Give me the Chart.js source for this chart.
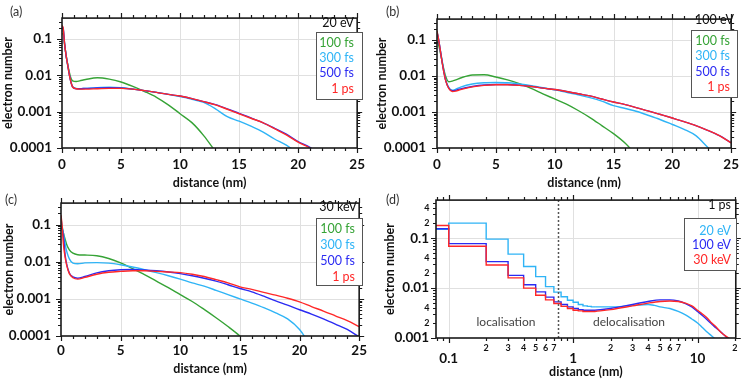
<!DOCTYPE html>
<html>
<head>
<meta charset="utf-8">
<script src="https://cdn.jsdelivr.net/npm/chart.js@4.4.1/dist/chart.umd.min.js"></script>
<style>
  html, body { margin: 0; padding: 0; background: #fff; }
  #fig { position: relative; width: 748px; height: 380px; overflow: hidden; }
  #fig canvas { position: absolute; }
</style>
</head>
<body>
<div id="fig">
  <canvas id="pa" width="374" height="190" style="left:0;top:0"></canvas>
  <canvas id="pb" width="374" height="190" style="left:374px;top:0"></canvas>
  <canvas id="pc" width="374" height="195" style="left:0;top:185px"></canvas>
  <canvas id="pd" width="374" height="195" style="left:374px;top:185px"></canvas>
</div>
<script>
// electron number vs distance, 4 panels

const timeNames = ['100 fs', '300 fs', '500 fs', '1 ps'];
const timeColors = ['#36a336', '#2fb4f6', '#2b2bf2', '#ff2828'];
const energyNames = ['20 eV', '100 eV', '30 keV'];
const energyColors = ['#2fb4f6', '#2b2bf2', '#ff2828'];

// tick labels
const distLabelAt = [0, 5, 10, 15, 20, 25];
const distLabels = ['0', '5', '10', '15', '20', '25'];
const numLabelAt = [0.0001, 0.001, 0.01, 0.1];
const numLabels = ['0.0001', '0.001', '0.01', '0.1'];
const logDistLabelAt = [0.1, 1, 10];
const logDistLabels = ['0.1', '1', '10'];
const logNumLabelAt = [0.001, 0.01, 0.1];
const logNumLabels = ['0.001', '0.01', '0.1'];
const dMinorXAt = [0.2, 0.3, 0.4, 0.5, 0.6, 0.7, 2, 3, 4, 5, 6, 7, 20];
const dMinorXText = ['2', '3', '4', '5', '6', '7', '2', '3', '4', '5', '6', '7', '2'];
const dMinorYAt = [0.002, 0.004, 0.02, 0.04, 0.2, 0.4];
const dMinorYText = ['2', '4', '2', '4', '2', '4'];

// (a) 20 eV
const distA = [0, 0.1, 0.22, 0.36, 0.5, 0.63, 0.77, 0.9, 1.2, 1.5, 2, 3, 4, 5, 6, 7, 8, 9, 10, 11, 12, 13, 14, 15, 16, 17, 18, 19, 20, 21, 22];
const a100fs = [0.14, 0.14, 0.07, 0.034, 0.019, 0.012, 0.0082, 0.0071, 0.0068, 0.0071, 0.0077, 0.0086, 0.0079, 0.0066, 0.005, 0.0036, 0.0025, 0.00155, 0.00088, 0.0005, 0.00022, 0.00008, null, null, null, null, null, null, null, null, null];
const a300fs = [0.2, 0.18, 0.074, 0.033, 0.018, 0.0102, 0.0064, 0.0049, 0.0044, 0.0043, 0.0044, 0.0046, 0.0047, 0.0046, 0.0042, 0.0038, 0.0034, 0.003, 0.0026, 0.0022, 0.0018, 0.0012, 0.00073, 0.00055, 0.0004, 0.00028, 0.000177, 0.00012, 0.00007, null, null];
const a500fs = [0.22, 0.2, 0.075, 0.033, 0.018, 0.01, 0.0063, 0.0048, 0.0043, 0.0043, 0.0044, 0.0045, 0.0046, 0.0045, 0.0042, 0.0038, 0.0034, 0.003, 0.0027, 0.0023, 0.0019, 0.00156, 0.0012, 0.0009, 0.00068, 0.0005, 0.00035, 0.00024, 0.00015, 0.000104, 0.00006];
const a1ps = [0.24, 0.2, 0.074, 0.033, 0.018, 0.01, 0.0063, 0.0048, 0.0043, 0.0042, 0.0042, 0.0043, 0.0044, 0.0044, 0.0042, 0.0038, 0.0034, 0.003, 0.0027, 0.0023, 0.0019, 0.00154, 0.00117, 0.00088, 0.00066, 0.0005, 0.00034, 0.00023, 0.000145, 0.0001, 0.00006];

// (b) 100 eV
const distB = [0, 0.1, 0.25, 0.5, 0.75, 1, 1.3, 1.6, 2, 3, 4, 5, 6, 7, 8, 9, 10, 11, 12, 13, 14, 15, 16, 17, 18, 19, 20, 21, 22, 23, 24, 25];
const b100fs = [0.09, 0.08, 0.05, 0.02, 0.0095, 0.0069, 0.0072, 0.0078, 0.0088, 0.0107, 0.0108, 0.0094, 0.0078, 0.0061, 0.0045, 0.0032, 0.0023, 0.00165, 0.0011, 0.0007, 0.00042, 0.00025, 0.000135, 0.00006, null, null, null, null, null, null, null, null];
const b300fs = [0.17, 0.12, 0.06, 0.02, 0.0075, 0.0048, 0.004, 0.0043, 0.0049, 0.006, 0.0065, 0.0066, 0.0065, 0.006, 0.0054, 0.0047, 0.0041, 0.0035, 0.003, 0.0025, 0.002, 0.0015, 0.00125, 0.00103, 0.0008, 0.00061, 0.00045, 0.00033, 0.00022, 0.000105, 0.00005, null];
const b500fs = [0.16, 0.12, 0.06, 0.018, 0.0073, 0.0046, 0.0039, 0.004, 0.0044, 0.0051, 0.0056, 0.0058, 0.0058, 0.0055, 0.0051, 0.0046, 0.0042, 0.0037, 0.0032, 0.0028, 0.0023, 0.0019, 0.0016, 0.0013, 0.00106, 0.00085, 0.00068, 0.00054, 0.00042, 0.00031, 0.00022, 0.00014];
const b1ps = [0.18, 0.12, 0.06, 0.018, 0.0072, 0.0045, 0.0037, 0.0038, 0.0042, 0.005, 0.0055, 0.0057, 0.0057, 0.0055, 0.0051, 0.0046, 0.0042, 0.0037, 0.0032, 0.0028, 0.0023, 0.0019, 0.0016, 0.0013, 0.00106, 0.00085, 0.00068, 0.00054, 0.00042, 0.00031, 0.00022, 0.000138];

// (c) 30 keV
const distC = [0, 0.1, 0.2, 0.35, 0.5, 0.7, 1, 1.4, 2, 3, 4, 5, 6, 7, 8, 9, 10, 11, 12, 13, 14, 15, 16, 17, 18, 19, 20, 21, 22, 23, 24, 25];
const c100fs = [0.1, 0.08, 0.06, 0.04, 0.028, 0.021, 0.017, 0.0155, 0.0152, 0.0145, 0.0122, 0.0093, 0.0065, 0.0045, 0.003, 0.002, 0.0013, 0.00085, 0.00052, 0.00031, 0.00018, 0.0001, 0.00005, null, null, null, null, null, null, null, null, null];
const c300fs = [0.15, 0.09, 0.06, 0.03, 0.018, 0.012, 0.0092, 0.0088, 0.0093, 0.0095, 0.0092, 0.0083, 0.0072, 0.0061, 0.0051, 0.0042, 0.0034, 0.0027, 0.0022, 0.0017, 0.0013, 0.001, 0.00077, 0.00058, 0.00042, 0.00029, 0.00015, 0.00005, null, null, null, null];
const c500fs = [0.08, 0.075, 0.05, 0.015, 0.008, 0.005, 0.0039, 0.0036, 0.004, 0.005, 0.0057, 0.0061, 0.0062, 0.006, 0.0057, 0.0053, 0.0048, 0.0042, 0.0036, 0.003, 0.0024, 0.0019, 0.00155, 0.00118, 0.00088, 0.00068, 0.00051, 0.00039, 0.00029, 0.00021, 0.00015, 0.000095];
const c1ps = [0.18, 0.09, 0.03, 0.013, 0.0075, 0.0048, 0.0037, 0.0034, 0.0038, 0.0046, 0.0052, 0.0055, 0.0057, 0.0057, 0.0055, 0.0053, 0.0051, 0.0046, 0.004, 0.0033, 0.0027, 0.0021, 0.0018, 0.0015, 0.00126, 0.00104, 0.00083, 0.00062, 0.00047, 0.00035, 0.00026, 0.00018];

// (d) 1 ps, histogram bins up to 1.5 nm then the smooth tail
const binEdges = [0.05, 0.1, 0.2, 0.3, 0.4, 0.5, 0.6, 0.7, 0.8, 0.9, 1.0, 1.1, 1.2, 1.3, 1.4, 1.5];
const d20eVBins = [0.15, 0.2, 0.096, 0.048, 0.027, 0.017, 0.0107, 0.0083, 0.0067, 0.0057, 0.0052, 0.0047, 0.0044, 0.0043, 0.0042];
const d100eVBins = [0.155, 0.078, 0.034, 0.018, 0.0117, 0.0084, 0.0066, 0.0053, 0.0047, 0.0042, 0.0039, 0.0037, 0.0036, 0.0036, 0.0036];
const d30keVBins = [0.18, 0.069, 0.029, 0.016, 0.01, 0.0072, 0.0058, 0.0049, 0.0043, 0.0039, 0.0036, 0.0035, 0.0034, 0.0034, 0.0034];
const tailDist20eV = [1.5, 2, 2.5, 3, 3.5, 4, 4.5, 5, 6, 7, 8, 9, 10, 11, 12, 13, 14, 15];
const d20eVTail = [0.0042, 0.0042, 0.0043, 0.0045, 0.0046, 0.0047, 0.0045, 0.0042, 0.0039, 0.0034, 0.0029, 0.0024, 0.002, 0.0016, 0.0013, 0.0011, 0.00092, 0.0007];
const tailDist = [1.5, 2, 3, 4, 5, 6, 7, 8, 9, 10, 11, 12, 13, 14, 15, 16, 17, 18, 19];
const d100eVTail = [0.0036, 0.0039, 0.0047, 0.0054, 0.0058, 0.0058, 0.0055, 0.0049, 0.0042, 0.0034, 0.0028, 0.0023, 0.0019, 0.0016, 0.0014, 0.0012, 0.00105, 0.00094, 0.0008];
const d30keVTail = [0.0034, 0.0037, 0.0044, 0.005, 0.0054, 0.0055, 0.0054, 0.005, 0.0044, 0.0036, 0.003, 0.0025, 0.002, 0.0017, 0.0014, 0.0012, 0.00108, 0.00098, 0.00085];
const boundaryNm = 0.76;

const FONT = 'Lato, "Open Sans", "DejaVu Sans", sans-serif';
const INK = '#111';
const tickFont = { family: FONT, size: 13.5, weight: 'bold' };
const titleFont = { family: FONT, size: 12.5, weight: 'bold' };

function xy(xs, ys) {
  return xs.map((x, i) => ({ x: x, y: ys[i] }));
}

function labelFor(v, at, txt) {
  const k = at.findIndex(a => Math.abs(a - v) <= a * 1e-6 || (a === 0 && v === 0));
  return k >= 0 ? txt[k] : '';
}

function logTickList(min, max) {
  const out = [];
  for (let p = Math.floor(Math.log10(min)); p <= Math.ceil(Math.log10(max)); p++) {
    for (let m = 1; m <= 9; m++) {
      const v = m * Math.pow(10, p);
      if (v < min || v > max) continue;
      out.push({ value: v, major: m === 1 });
    }
  }
  return out;
}

function lineSet(label, color, xs, ys, order, extra) {
  return Object.assign({
    label: label,
    data: xy(xs, ys),
    borderColor: color,
    backgroundColor: color,
    borderWidth: 1.4,
    pointRadius: 0,
    cubicInterpolationMode: 'monotone',
    order: order
  }, extra || {});
}

function timeSets(dist, series) {
  return series.map((s, i) => lineSet(timeNames[i], timeColors[i], dist, s, 3 - i));
}

function distAxis(height, pad, titlePad) {
  return {
    type: 'linear', min: 0, max: 25,
    afterBuildTicks: s => {
      const t = [];
      for (let v = 0; v <= 25; v++) t.push({ value: v, major: distLabelAt.includes(v) });
      s.ticks = t;
    },
    afterFit: s => { s.height = height; },
    grid: { display: false, drawTicks: false },
    border: { display: false },
    ticks: { autoSkip: false, maxRotation: 0, padding: pad, color: INK, font: tickFont,
      callback: v => labelFor(v, distLabelAt, distLabels) },
    title: { display: true, text: 'distance (nm)', color: INK, font: titleFont, padding: { top: 0, bottom: titlePad } }
  };
}

function numberAxis(width, pad, titlePad) {
  return {
    type: 'logarithmic', min: 0.0001, max: 0.38,
    afterBuildTicks: s => { s.ticks = logTickList(0.0001, 0.38); },
    afterFit: s => { s.width = width; },
    grid: { display: false, drawTicks: false },
    border: { display: false },
    ticks: { autoSkip: false, padding: pad, color: INK, font: tickFont,
      callback: v => labelFor(v, numLabelAt, numLabels) },
    title: { display: true, text: 'electron number', color: INK, font: titleFont, padding: { top: titlePad, bottom: 0 } }
  };
}

// frame, ticks on all four sides, grid, legend box and labels
const deco = {
  id: 'deco',
  beforeDatasetsDraw(chart) {
    const { ctx, chartArea: a, scales: { x, y } } = chart;
    ctx.save();
    ctx.strokeStyle = '#e0e0e0';
    ctx.lineWidth = 1;
    ctx.beginPath();
    x.ticks.forEach(t => {
      if (!t.major) return;
      const p = Math.round(x.getPixelForValue(t.value)) + 0.5;
      if (p < a.left + 2 || p > a.right - 2) return;
      ctx.moveTo(p, a.top); ctx.lineTo(p, a.bottom);
    });
    y.ticks.forEach(t => {
      if (!t.major) return;
      const p = Math.round(y.getPixelForValue(t.value)) + 0.5;
      if (p < a.top + 2 || p > a.bottom - 2) return;
      ctx.moveTo(a.left, p); ctx.lineTo(a.right, p);
    });
    ctx.stroke();
    ctx.restore();
  },
  afterDraw(chart, args, o) {
    const { ctx, chartArea: a, scales: { x, y } } = chart;
    ctx.save();

    if (o.divider) {
      const p = Math.round(x.getPixelForValue(o.divider)) + 0.5;
      ctx.strokeStyle = '#555';
      ctx.lineWidth = 1.5;
      ctx.setLineDash([2, 2]);
      ctx.beginPath();
      ctx.moveTo(p, a.top); ctx.lineTo(p, a.bottom);
      ctx.stroke();
      ctx.setLineDash([]);
    }

    ctx.strokeStyle = '#1a1a1a';
    ctx.lineWidth = 1.2;
    ctx.beginPath();
    x.ticks.forEach(t => {
      const p = Math.round(x.getPixelForValue(t.value)) + 0.5;
      const len = t.major ? 5 : 3;
      ctx.moveTo(p, a.bottom); ctx.lineTo(p, a.bottom + len);
      ctx.moveTo(p, a.top); ctx.lineTo(p, a.top - len);
    });
    y.ticks.forEach(t => {
      const p = Math.round(y.getPixelForValue(t.value)) + 0.5;
      const len = t.major ? 5 : 3;
      ctx.moveTo(a.left, p); ctx.lineTo(a.left - len, p);
      ctx.moveTo(a.right, p); ctx.lineTo(a.right + len, p);
    });
    ctx.stroke();

    ctx.lineWidth = 1.6;
    ctx.strokeRect(a.left, a.top, a.right - a.left, a.bottom - a.top);

    ctx.fillStyle = INK;
    ctx.textBaseline = 'middle';
    if (o.minorX) {
      ctx.font = 'bold 9px ' + FONT;
      ctx.textAlign = 'center';
      o.minorX.at.forEach((v, i) => ctx.fillText(o.minorX.text[i], x.getPixelForValue(v), a.bottom + 10));
      ctx.textAlign = 'right';
      o.minorY.at.forEach((v, i) => ctx.fillText(o.minorY.text[i], a.left - 6.5, y.getPixelForValue(v)));
    }

    if (o.regions) {
      ctx.font = '12px ' + FONT;
      ctx.fillStyle = '#444';
      ctx.textAlign = 'center';
      o.regions.forEach(r => ctx.fillText(r.text, r.x, r.y));
    }

    ctx.font = '12.5px ' + FONT;
    ctx.fillStyle = '#333';
    ctx.textAlign = 'left';
    ctx.fillText(o.tag[0], o.tag[1], o.tag[2]);

    ctx.fillStyle = INK;
    ctx.textAlign = 'right';
    ctx.fillText(o.head[0], o.head[1], o.head[2]);

    const b = o.box;
    ctx.fillStyle = '#fff';
    ctx.fillRect(b[0], b[1], b[2], b[3]);
    ctx.strokeStyle = '#555';
    ctx.lineWidth = 1;
    ctx.strokeRect(Math.round(b[0]) + 0.5, Math.round(b[1]) + 0.5, b[2], b[3]);
    o.names.forEach((n, i) => {
      ctx.fillStyle = o.colors[i];
      ctx.fillText(n, o.rowX, o.rowY[i]);
    });
    ctx.restore();
  }
};

function options(pad, scales, decoOpts) {
  return {
    responsive: false,
    animation: false,
    devicePixelRatio: 1,
    layout: { padding: { left: 0, right: pad.right, top: pad.top, bottom: 0 }, autoPadding: false },
    plugins: { legend: { display: false }, tooltip: { enabled: false }, deco: decoOpts },
    scales: scales
  };
}

new Chart(document.getElementById('pa'), {
  type: 'line',
  data: { datasets: timeSets(distA, [a100fs, a300fs, a500fs, a1ps]) },
  options: options({ right: 8, top: 5 },
    { x: distAxis(42, 9, 0), y: numberAxis(62, 10, 0) },
    { tag: ['(a)', 10, 12], head: ['20 eV', 354, 23], box: [316, 32, 46, 67],
      rowX: 354, rowY: [43, 58, 73, 89], names: timeNames, colors: timeColors }),
  plugins: [deco]
});

new Chart(document.getElementById('pb'), {
  type: 'line',
  data: { datasets: timeSets(distB, [b100fs, b300fs, b500fs, b1ps]) },
  options: options({ right: 7, top: 5 },
    { x: distAxis(42, 9, 0), y: numberAxis(63, 11, 0) },
    { tag: ['(b)', 12, 12], head: ['100 eV', 360, 20], box: [317, 30, 46, 67],
      rowX: 356, rowY: [41, 56, 72, 87], names: timeNames, colors: timeColors }),
  plugins: [deco]
});

new Chart(document.getElementById('pc'), {
  type: 'line',
  data: { datasets: timeSets(distC, [c100fs, c300fs, c500fs, c1ps]) },
  options: options({ right: 10, top: 7 },
    { x: distAxis(44, 7, 4), y: numberAxis(61, 10, 1) },
    { tag: ['(c)', 5, 15], head: ['30 keV', 357, 22], box: [316, 33, 46, 67],
      rowX: 355, rowY: [44, 60, 76, 92], names: timeNames, colors: timeColors }),
  plugins: [deco]
});

const energyBins = [d20eVBins, d100eVBins, d30keVBins];
const energyTails = [[tailDist20eV, d20eVTail], [tailDist, d100eVTail], [tailDist, d30keVTail]];
const dSets = [];
energyNames.forEach((n, i) => {
  const bins = energyBins[i];
  const stepVals = binEdges.map((e, k) => bins[Math.min(k, bins.length - 1)]);
  dSets.push(lineSet(n, energyColors[i], binEdges, stepVals, 2 - i, { stepped: 'before', cubicInterpolationMode: 'default' }));
  dSets.push(lineSet(n, energyColors[i], energyTails[i][0], energyTails[i][1], 2 - i));
});

new Chart(document.getElementById('pd'), {
  type: 'line',
  data: { datasets: dSets },
  options: options({ right: 8, top: 8 }, {
    x: {
      type: 'logarithmic', min: 0.079, max: 20.3,
      afterBuildTicks: s => { s.ticks = logTickList(0.079, 20.3); },
      afterFit: s => { s.height = 42; },
      grid: { display: false, drawTicks: false },
      border: { display: false },
      ticks: { autoSkip: false, maxRotation: 0, padding: 13, color: INK, font: tickFont,
        callback: v => labelFor(v, logDistLabelAt, logDistLabels) },
      title: { display: true, text: 'distance (nm)', color: INK, font: titleFont, padding: { top: 0, bottom: 1 } }
    },
    y: {
      type: 'logarithmic', min: 0.001, max: 0.58,
      afterBuildTicks: s => { s.ticks = logTickList(0.001, 0.58); },
      afterFit: s => { s.width = 62; },
      grid: { display: false, drawTicks: false },
      border: { display: false },
      ticks: { autoSkip: false, padding: 7, color: INK, font: tickFont,
        callback: v => labelFor(v, logNumLabelAt, logNumLabels) },
      title: { display: true, text: 'electron number', color: INK, font: titleFont, padding: { top: 8, bottom: 0 } }
    }
  }, {
    tag: ['(d)', 12, 15], head: ['1 ps', 357, 20], box: [310, 33, 52, 52],
    rowX: 357, rowY: [46, 60, 75], names: energyNames, colors: energyColors,
    divider: boundaryNm,
    minorX: { at: dMinorXAt, text: dMinorXText },
    minorY: { at: dMinorYAt, text: dMinorYText },
    regions: [{ text: 'localisation', x: 132, y: 137 }, { text: 'delocalisation', x: 255, y: 137 }]
  }),
  plugins: [deco]
});
</script>
</body>
</html>
